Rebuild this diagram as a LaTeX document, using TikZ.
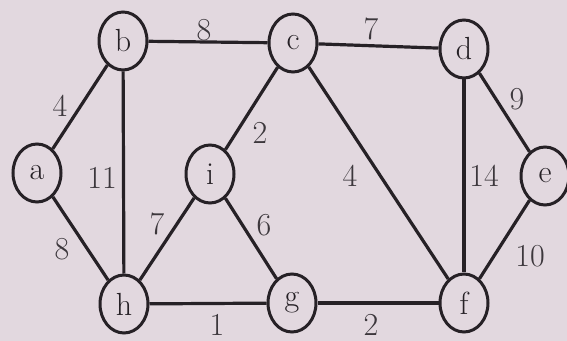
\documentclass[tikz,border=0pt]{standalone}
\usetikzlibrary{shapes.geometric}

\definecolor{paper}{RGB}{226,216,223}
\definecolor{ink}{RGB}{38,33,38}

\begin{document}
\begin{tikzpicture}[
  x=0.5pt, y=-0.5pt,
  vtx/.style={
    ellipse, draw=ink, line width=1.5pt, fill=paper,
    minimum width=24pt, minimum height=29pt, inner sep=0pt,
    font=\fontsize{16}{19}\selectfont, text=ink
  },
  edge/.style={draw=ink, line width=1.6pt},
  wt/.style={font=\fontsize{16}{19}\selectfont, text=ink!90, inner sep=1pt},
]
  \fill[paper] (0,0) rectangle (567,341);
  \useasboundingbox (0,0) rectangle (567,341);

  % --- Vertices ---
  \node[vtx] (a) at (37,173) {a};
  \node[vtx] (b) at (123,41) {b};
  \node[vtx] (c) at (293,43) {c};
  \node[vtx] (d) at (464,49) {d};
  \node[vtx] (e) at (545,176) {e};
  \node[vtx] (f) at (464,303) {f};
  \node[vtx] (g) at (292,303) {g};
  \node[vtx] (h) at (124,304) {h};
  \node[vtx] (i) at (210,174) {i};

  % --- Edges ---
  \foreach \u/\v in {a/b, b/c, c/d, d/e, a/h, b/h, h/i, c/i, i/g, c/f, d/f, e/f, h/g, g/f}
    \draw[edge] (\u) -- (\v);

  % --- Weights ---
  \node[wt] (wab) at (60,106) {4};
  \node[wt] (wbc) at (204,30) {8};
  \node[wt] (wcd) at (371,29) {7};
  \node[wt] (wde) at (517,99) {9};
  \node[wt] (wah) at (62,249) {8};
  \node[wt] (wbh) at (102,178) {11};
  \node[wt] (whi) at (157,224) {7};
  \node[wt] (wci) at (260,133) {2};
  \node[wt] (wig) at (264,225) {6};
  \node[wt] (wcf) at (350,176) {4};
  \node[wt] (wdf) at (484,176) {14};
  \node[wt] (wef) at (530,256) {10};
  \node[wt] (whg) at (217,325) {1};
  \node[wt] (wgf) at (371,325) {2};

\end{tikzpicture}
\end{document}
